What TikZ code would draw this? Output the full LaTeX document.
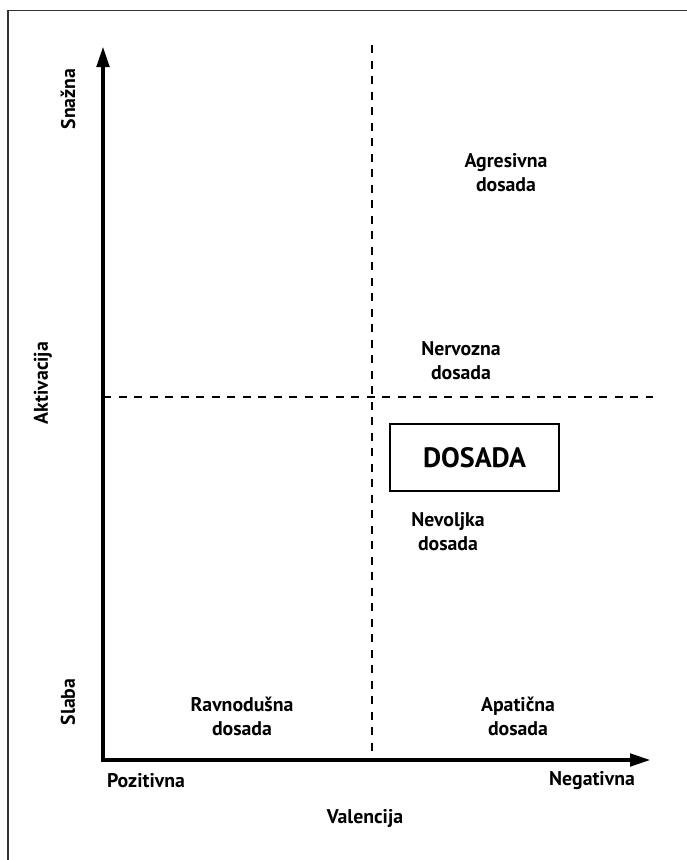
\documentclass[tikz,border=0pt]{standalone}
\usepackage{fontspec}
\setmainfont{PT Sans}
\usetikzlibrary{arrows.meta}
\tikzset{
  lbl/.style={font=\fontsize{19.8}{24}\selectfont\bfseries, align=center, inner sep=0pt},
  axis/.style={line width=4.5pt, line join=miter, {Triangle[length=21pt,width=12pt]}-{Triangle[length=21pt,width=12pt]}},
  dividerline/.style={dash pattern=on 8pt off 7.5pt, line width=1.5pt},
  frameline/.style={draw=black!80, line width=1.2pt}
}
\begin{document}
\begin{tikzpicture}[x=1pt,y=-1pt]
\useasboundingbox (0,0) rectangle (687,860);
\draw[frameline] (8,860) -- (8,10.5) -- (687,10.5);
\coordinate (origin) at (103,760);
\coordinate (ytip) at (103,46);
\coordinate (xtip) at (651,760);
\coordinate (vtop) at (372,45);
\coordinate (vbot) at (372,760);
\coordinate (hleft) at (103,397);
\coordinate (hright) at (653,397);
\draw[dividerline] (vtop) -- (vbot);
\draw[dividerline] (hleft) -- (hright);
\draw[axis] (ytip) -- (origin) -- (xtip);
\node[lbl, rotate=90] (snazna) at (68,99) {Snažna};
\node[lbl, rotate=90] (aktivacija) at (43,383) {Aktivacija};
\node[lbl, rotate=90] (slaba) at (68,702) {Slaba};
\node[lbl] (pozitivna) at (146,781) {Pozitivna};
\node[lbl] (negativna) at (592,781) {Negativna};
\node[lbl] (valencija) at (365,819) {Valencija};
\node[lbl] (agresivna) at (506,173) {Agresivna\\dosada};
\node[lbl] (nervozna) at (461,361) {Nervozna\\dosada};
\node[draw, line width=1.5pt, minimum width=169pt, minimum height=67pt, inner sep=0pt,
      font=\fontsize{28}{32}\selectfont\bfseries] (dosada) at (474.5,457.5) {DOSADA};
\node[lbl] (nevoljka) at (448,532) {Nevoljka\\dosada};
\node[lbl] (ravnodusna) at (242,716) {Ravnodušna\\dosada};
\node[lbl] (apaticna) at (518,716) {Apatična\\dosada};
\end{tikzpicture}
\end{document}
